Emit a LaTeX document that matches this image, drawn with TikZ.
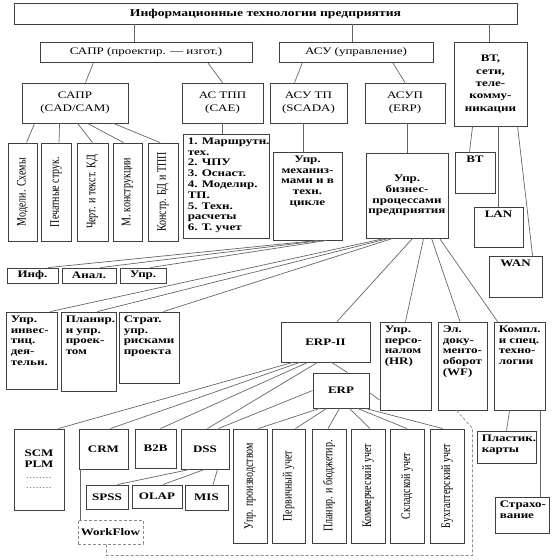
\documentclass[tikz,border=0pt]{standalone}
\usepackage{fontspec}
\setmainfont[FakeStretch=1.3]{Liberation Serif}
\newfontfamily\vfont[FakeStretch=0.77]{Liberation Serif}
\usetikzlibrary{fit}

\tikzset{
  box/.style={draw=black!75, line width=0.9pt, inner sep=0pt},
  dbox/.style={box, draw=black!45, dash pattern=on 3pt off 2pt},
  txt/.style={font=\fontsize{10}{10.8}\selectfont, inner sep=1pt, align=center},
  btxt/.style={txt, font=\fontsize{10}{10.8}\selectfont\bfseries},
  ttl/.style={txt, font=\fontsize{10.5}{11}\selectfont\bfseries},
  vtxt/.style={font=\vfont\fontsize{13}{13}\selectfont, inner sep=0pt, rotate=90},
  link/.style={draw=black!60, line width=0.7pt},
  dlink/.style={link, draw=black!45, dash pattern=on 3pt off 2pt},
}

% box with centred text
\newcommand{\cenbox}[7][txt]{%
  \node[box, fit={(#3,#4) (#5,#6)}] (#2) {};
  \node[#1] (#2t) at (#2) {#7};}
% box with text at the top
\newcommand{\topbox}[7][btxt]{%
  \node[box, fit={(#3,#4) (#5,#6)}] (#2) {};
  \node[#1, anchor=north] (#2t) at ([yshift=-3pt]#2.north) {#7};}
% box with text at the top left
\newcommand{\lefbox}[7][btxt]{%
  \node[box, fit={(#3,#4) (#5,#6)}] (#2) {};
  \node[#1, anchor=north west, align=left] (#2t) at ([shift={(4pt,-3pt)}]#2.north west) {#7};}
% box with turned text
\newcommand{\rotbox}[6]{%
  \node[box, fit={(#2,#3) (#4,#5)}] (#1) {};
  \node[vtxt] (#1t) at (#1) {#6};}

\begin{document}
\begin{tikzpicture}[x=1pt, y=-1pt]
  \useasboundingbox (0,0) rectangle (554,560);

  \cenbox[ttl]{top}{14}{3}{517}{24}{Информационные технологии предприятия}
  \cenbox{sapr}{40}{42}{252}{62}{САПР (проектир. — изгот.)}
  \cenbox{asu}{279}{42}{433}{62}{АСУ (управление)}
  \cenbox[btxt]{vt}{454}{42}{527}{126}{ВТ,\\[1.5pt]сети,\\[1.5pt]теле-\\[1.5pt]комму-\\[1.5pt]никации}

  \cenbox{cad}{22}{83}{128}{123}{САПР\\[2pt](CAD/CAM)}
  \cenbox{ctpp}{182}{83}{263}{123}{АС ТПП\\[2pt](CAE)}
  \cenbox{asutp}{270}{83}{347}{123}{АСУ ТП\\[2pt](SCADA)}
  \cenbox{asup}{365}{83}{445}{123}{АСУП\\[2pt](ERP)}

  \rotbox{m1}{8}{143}{37}{241}{Модели. Схемы}
  \rotbox{m2}{41}{143}{71}{241}{Печатные струк.}
  \rotbox{m3}{77}{143}{108}{241}{Черт. и текст. КД}
  \rotbox{m4}{113}{143}{142}{241}{М. конструкции}
  \rotbox{m5}{148}{143}{178}{241}{Констр. БД и ТПП}

  \lefbox{list}{183}{134}{269}{238}{1. Маршрутн.\\тех.\\2. ЧПУ\\3. Оснаст.\\4. Моделир.\\ТП.\\5. Техн.\\расчеты\\6. Т. учет}
  \topbox{mech}{273}{152}{342}{240}{Упр.\\механиз-\\мами и в\\техн.\\цикле}
  \cenbox[btxt]{biz}{366}{153}{448}{238}{Упр.\\бизнес-\\процессами\\предприятия}
  \topbox{bt}{455}{152}{495}{193}{ВТ}
  \topbox{lan}{474}{207}{523}{247}{LAN}
  \topbox{wan}{489}{256}{542}{297}{WAN}

  \cenbox[btxt]{inf}{7}{268}{58}{283}{Инф.}
  \cenbox[btxt]{anal}{62}{268}{116}{283}{Анал.}
  \cenbox[btxt]{upr}{120}{268}{166}{283}{Упр.}

  \lefbox{inv}{6}{312}{57}{389}{Упр.\\инвес-\\тиц.\\дея-\\тельн.}
  \lefbox{plan}{61}{312}{116}{391}{Планир.\\и упр.\\проек-\\том}
  \lefbox{strat}{119}{312}{179}{383}{Страт.\\упр.\\рисками\\проекта}

  \cenbox[btxt]{erp2}{281}{322}{370}{362}{ERP-II}
  \cenbox[btxt]{erp}{313}{373}{369}{408}{ERP}
  \lefbox{hr}{380}{322}{431}{410}{Упр.\\персо-\\налом\\(HR)}
  \lefbox{wf}{438}{322}{487}{410}{Эл.\\доку-\\менто-\\оборот\\(WF)}
  \lefbox{kompl}{494}{322}{545}{410}{Компл.\\и спец.\\техно-\\логии}

  \cenbox[btxt]{scm}{14}{429}{64}{510}{SCM\\PLM\\{\mdseries\color{black!50}........}\\{\mdseries\color{black!50}........}}
  \cenbox[btxt]{crm}{79}{429}{128}{469}{CRM}
  \cenbox[btxt]{b2b}{135}{429}{176}{468}{B2B}
  \cenbox[btxt]{dss}{181}{429}{229}{469}{DSS}
  \cenbox[btxt]{spss}{86}{485}{128}{509}{SPSS}
  \cenbox[btxt]{olap}{132}{485}{182}{508}{OLAP}
  \cenbox[btxt]{mis}{185}{485}{228}{510}{MIS}
  \node[dbox, fit={(78,520) (143,544)}] (wflow) {};
  \node[btxt] (wflowt) at (wflow) {WorkFlow};

  \rotbox{e1}{233}{429}{267}{543}{Упр. производством}
  \rotbox{e2}{272}{429}{305}{543}{Первичный учет}
  \rotbox{e3}{312}{429}{346}{543}{Планир. и бюджетир.}
  \rotbox{e4}{351}{429}{385}{543}{Коммерческий учет}
  \rotbox{e5}{390}{429}{424}{543}{Складской учет}
  \rotbox{e6}{430}{429}{464}{543}{Бухгалтерский учет}

  \lefbox{plast}{477}{431}{536}{463}{Пластик.\\карты}
  \lefbox{strah}{495}{497}{549}{533}{Страхо-\\вание}

  % top levels
  \draw[link] ([xshift=-12pt]sapr.north) -- ([xshift=-12pt]sapr.north |- top.south);
  \draw[link] ([xshift=-4pt]asu.north) -- ([xshift=-4pt]asu.north |- top.south);
  \draw[link] ([xshift=-1.5pt]vt.north) -- ([xshift=-1.5pt]vt.north |- top.south);
  \draw[link] ([xshift=54pt]sapr.south west) -- ([xshift=64pt]cad.north west);
  \draw[link] ([xshift=168pt]sapr.south west) -- (ctpp.north);
  \draw[link] ([xshift=24pt]asu.south west) -- ([xshift=25pt]asutp.north west);
  \draw[link] ([xshift=114pt]asu.south west) -- (asup.north);

  % CAD/CAM
  \draw[link] ([xshift=13pt]cad.south west) -- ([xshift=19pt]m1.north west);
  \draw[link] ([xshift=38pt]cad.south west) -- ([xshift=3pt]m2.north);
  \draw[link] ([xshift=56pt]cad.south west) -- (m3.north);
  \draw[link] ([xshift=66pt]cad.south west) -- ([xshift=-4pt]m4.north);
  \draw[link] ([xshift=92pt]cad.south west) -- ([xshift=-3pt]m5.north);
  \draw[link] (ctpp.south) -- (ctpp.south |- list.north);
  \draw[link] ([xshift=-4.5pt]mech.north) -- ([xshift=-4.5pt]mech.north |- asutp.south);
  \draw[link] (biz.north) -- (biz.north |- asup.south);

  % networks
  \draw[link] ([xshift=19pt]vt.south west) -- ([xshift=15pt]bt.north west);
  \draw[link] (lan.north) -- (lan.north |- vt.south);
  \draw[link] ([xshift=64pt]vt.south west) -- ([xshift=44pt]wan.north west);

  % management
  \draw[link] ([xshift=45pt]mech.south west) -- ([xshift=-10pt]inf.north east);
  \draw[link] ([xshift=49pt]mech.south west) -- ([xshift=-16pt]anal.north east);
  \draw[link] ([xshift=54pt]mech.south west) -- ([xshift=-16pt]upr.north east);
  \draw[link] ([xshift=19pt]biz.south west) -- ([xshift=-7pt]inv.north east);
  \draw[link] ([xshift=23pt]biz.south west) -- ([xshift=-19pt]plan.north east);
  \draw[link] ([xshift=27pt]biz.south west) -- ([xshift=-16pt]strat.north east);
  \draw[link] ([xshift=47pt]biz.south west) -- ([xshift=11.5pt]erp2.north);
  \draw[link] ([xshift=58pt]biz.south west) -- (hr.north);
  \draw[link] ([xshift=66pt]biz.south west) -- ([xshift=-2.5pt]wf.north);
  \draw[link] ([xshift=74pt]biz.south west) -- ([xshift=4pt]kompl.north west);

  % ERP-II and ERP
  \draw[link] ([xshift=12pt]erp2.south west) -- ([xshift=-6pt]scm.north east);
  \draw[link] ([xshift=19pt]erp2.south west) -- ([xshift=-18pt]crm.north east);
  \draw[link] ([xshift=27pt]erp2.south west) -- ([xshift=-16pt]b2b.north east);
  \draw[link] ([xshift=37pt]erp2.south west) -- ([xshift=-22pt]dss.north east);
  \draw[link] ([xshift=51pt]erp2.south west) -- ([xshift=35pt]erp.north west);
  \draw[link] (erp.west) -- ([xshift=-11pt]dss.north east);
  \draw[link] ([yshift=-2pt]erp.east) -- ([yshift=-34pt]hr.west);
  \draw[link] ([xshift=7pt]erp.south west) -- ([xshift=-9pt]e1.north east);
  \draw[link] ([xshift=14pt]erp.south west) -- ([xshift=-10pt]e2.north east);
  \draw[link] ([xshift=27pt]erp.south west) -- ([xshift=-1pt]e3.north);
  \draw[link] ([xshift=37pt]erp.south west) -- ([xshift=2pt]e4.north);
  \draw[link] ([xshift=45pt]erp.south west) -- (e5.north);
  \draw[link] ([xshift=53pt]erp.south west) -- ([xshift=13pt]e6.north west);

  \draw[link] ([xshift=9pt]dss.south west) -- ([xshift=-11pt]spss.north east);
  \draw[link] ([xshift=24pt]dss.south west) -- ([xshift=6pt]olap.north);
  \draw[link] ([xshift=37pt]dss.south west) -- ([xshift=6.5pt]mis.north);
  \draw[link] ([xshift=2pt]crm.south west) -- ([xshift=2pt]crm.south west |- wflow.north);
  \draw[dlink] ([xshift=19pt]wf.south west) -- ++(16,18)
    |- ([xshift=-4pt,yshift=-11pt]wflow.south) -- ([xshift=-4pt]wflow.south);

  \draw[link] ([xshift=16pt]kompl.south west) -- ([xshift=30pt]plast.north west);
  \draw[link] ([xshift=-5pt]kompl.south east) -- ([xshift=-5pt]kompl.south east |- strah.north);
\end{tikzpicture}
\end{document}
